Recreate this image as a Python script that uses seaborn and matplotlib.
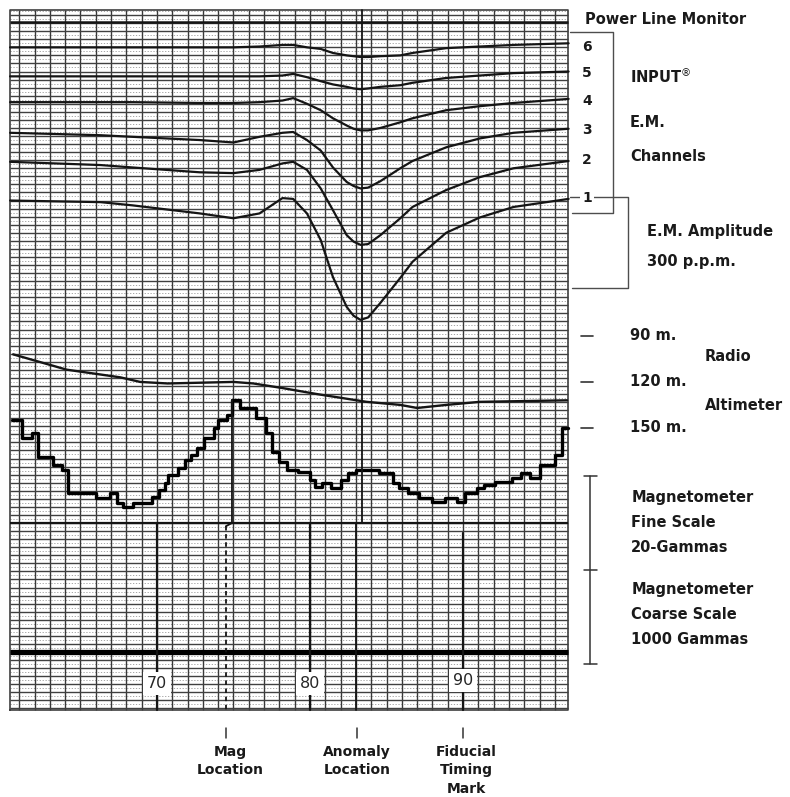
import numpy as np
import pandas as pd
import matplotlib
matplotlib.use('Agg')
import matplotlib.pyplot as plt
import seaborn as sns

# chart record, x in fiducial numbers, y in chart divisions (0 = coarse mag line)
em_fid = [60.4, 66.3, 68.4, 72.8, 75.0, 76.7, 78.2, 78.9, 79.8, 80.7,
          81.5, 82.4, 82.85, 83.3, 83.8, 84.6, 85.9, 86.7, 88.9, 91.1, 93.3, 96.9]
ch1 = [56.0, 55.8, 55.4, 54.4, 53.8, 54.4, 56.3, 56.2, 54.4, 51.1,
       46.5, 42.8, 41.7, 41.2, 41.5, 43.3, 46.4, 48.4, 52.0, 53.9, 55.2, 56.2]
ch2 = [60.8, 60.4, 60.1, 59.5, 59.4, 59.8, 60.6, 60.8, 59.8, 57.5,
       54.8, 51.7, 50.9, 50.5, 50.6, 51.7, 53.8, 55.2, 57.3, 58.9, 60.0, 60.9]
ch3 = [64.4, 64.1, 63.9, 63.5, 63.2, 63.9, 64.4, 64.5, 63.5, 62.2,
       60.1, 58.3, 57.8, 57.5, 57.6, 58.4, 60.0, 60.9, 62.6, 63.7, 64.4, 64.9]
ch4 = [68.2, 68.2, 68.2, 68.1, 68.1, 68.2, 68.4, 68.7, 68.0, 67.2,
       66.2, 65.3, 64.9, 64.7, 64.7, 65.0, 65.7, 66.2, 67.2, 67.7, 68.1, 68.6]
ch5 = [71.4, 71.4, 71.4, 71.4, 71.4, 71.4, 71.5, 71.7, 71.3, 70.8,
       70.4, 70.1, 69.9, 69.8, 69.9, 70.1, 70.3, 70.6, 71.2, 71.5, 71.8, 72.0]
ch6 = [75.0, 75.0, 75.0, 75.0, 75.0, 75.1, 75.3, 75.3, 75.0, 74.8,
       74.3, 74.0, 73.9, 73.8, 73.8, 73.9, 74.0, 74.3, 74.9, 75.1, 75.3, 75.5]
power_line = 78.1

# radio altimeter (metres)
alt_fid = [60.6, 64.1, 67.6, 68.9, 70.7, 75.0, 76.3, 78.2, 80.5, 83.7,
           85.9, 87.0, 88.9, 91.1, 96.8]
alt_m = [102, 112, 117, 120, 121, 120, 121, 124, 128, 133,
         135, 137, 135, 133, 132]
alt_ticks = [90, 120, 150]

# magnetometer fine scale (gammas above the local minimum), stepped record
mag_fid = [60.5, 61.2, 61.8, 62.2, 63.2, 63.8, 64.2, 66.0, 66.9, 67.4,
           67.8, 68.4, 69.7, 70.1, 70.5, 70.7, 71.4, 71.8, 72.2, 72.6,
           73.1, 73.7, 74.0, 74.6, 74.9, 75.4, 76.5, 77.1, 77.5, 78.0,
           78.5, 79.2, 80.0, 80.3, 80.8, 81.4, 82.0, 82.5, 83.0, 84.5,
           85.4, 85.8, 86.4, 87.1, 88.0, 88.8, 89.6, 90.1, 90.9, 91.4,
           92.1, 93.2, 93.8, 94.4, 95.0, 96.0, 96.5, 96.86]
mag_gamma = [18.5, 14.7, 15.7, 10.6, 8.9, 7.9, 3.0, 1.9, 3.0, 0.9,
             0.0, 0.9, 2.1, 3.6, 5.1, 6.8, 8.3, 10.0, 11.1, 12.6,
             14.7, 16.8, 18.5, 19.6, 22.8, 21.1, 18.9, 15.7, 11.7, 9.6,
             7.9, 7.4, 5.7, 4.3, 5.1, 4.0, 5.7, 7.2, 7.9, 7.2,
             5.1, 4.0, 3.0, 1.9, 1.1, 1.9, 1.1, 3.0, 4.0, 4.7,
             5.3, 6.2, 7.2, 6.2, 8.9, 11.1, 16.8, 16.8]

fid_labels = [70, 80, 90]
channel_names = ['1', '2', '3', '4', '5', '6']

# scale of the record
MAG_BASE = 18.0      # divisions at 0 gamma
GAMMA_DIV = 0.583    # divisions per gamma
def alt_div(m):
    return 39.2 - (np.asarray(m, dtype=float) - 90) * 0.19

X0, X1 = 60.39, 96.86
Y0, Y1 = -7.19, 79.63
INK = '#151515'

sns.set_theme(style='white')
plt.rcParams['font.family'] = ['DejaVu Sans']

fig = plt.figure(figsize=(7.9, 7.97), dpi=100)
ax = fig.add_axes([0, 0, 1, 1])
ax.set_xlim(59.74, 111.37)
ax.set_ylim(-17.98, 80.87)
ax.axis('off')

# chart paper
ax.hlines(np.arange(-6.5, 79.6, 1.0), X0, X1, color='0.6', lw=0.6, linestyles=(0, (1.5, 2)))
ax.vlines(np.arange(61, 97), Y0, Y1, color='0.22', lw=1.0)
ax.hlines(np.arange(-7, 80), X0, X1, color='0.25', lw=1.0)
ax.plot([X0, X1, X1, X0, X0], [Y0, Y0, Y1, Y1, Y0], color='0.25', lw=1.2)
ax.hlines([16], X0, X1, color=INK, lw=1.6)
ax.hlines([0], X0, X1, color='black', lw=3.8)
ax.hlines([power_line], X0, X1, color=INK, lw=1.8)

# EM channels
em = pd.DataFrame({
    'fid': em_fid * 6,
    'div': ch1 + ch2 + ch3 + ch4 + ch5 + ch6,
    'channel': sum([[c] * len(em_fid) for c in channel_names], []),
})
sns.lineplot(data=em, x='fid', y='div', units='channel', estimator=None,
             sort=False, color=INK, lw=1.6, ax=ax, legend=False,
             solid_joinstyle='round')

# radio altimeter
sns.lineplot(x=alt_fid, y=alt_div(alt_m), sort=False, color=INK, lw=1.7, ax=ax,
             solid_joinstyle='round')

# magnetometer
mag_div = MAG_BASE + GAMMA_DIV * np.array(mag_gamma)
sns.lineplot(x=mag_fid, y=mag_div, sort=False, color='black', lw=2.4,
             drawstyle='steps-post', ax=ax)

# anomaly and mag location picks
ax.plot([83.4, 83.4, 83.0, 83.0], [Y1, 16, 16, Y0], color=INK, lw=1.3)
peak = mag_fid[int(np.argmax(mag_gamma))]
ax.plot([peak, peak, 74.5], [mag_div.max(), 16, 15.6], color=INK, lw=1.3)
ax.plot([74.5, 74.5], [15.6, Y0], color=INK, lw=1.3, ls=(0, (2.5, 2)))

# fiducial timing marks
for f in fid_labels:
    top = 16 if f < 90 else 14.8
    ax.plot([f, f], [top, Y0], color=INK, lw=1.6)
    ax.text(f, -3.9 if f < 90 else -3.5, str(f), ha='center', va='center',
            fontsize=11.5, color='0.15',
            bbox=dict(facecolor='white', edgecolor='none', pad=3))

# right-hand annotations
txt = dict(fontsize=10.5, fontweight='bold', color='0.1', va='center', ha='left')
ax.text(97.97, 78.4, 'Power Line Monitor', **txt)
ax.plot([97.0, 99.8, 99.8, 97.1], [76.9, 76.9, 54.45, 54.45], color='0.3', lw=1.0)
ax.plot([97.0, 100.78, 100.78, 97.1], [56.43, 56.43, 45.15, 45.15], color='0.3', lw=1.0)
for name, yy in zip(channel_names, [56.3, 61.0, 64.7, 68.3, 71.8, 75.0]):
    ax.text(98.1, yy, name, fontsize=10, fontweight='bold', color='0.1',
            ha='center', va='center',
            bbox=dict(facecolor='white', edgecolor='none', pad=1.5))
ax.text(100.9, 71.4, r'INPUT$^{\circledR}$', **txt)
ax.text(100.9, 65.7, 'E.M.', **txt)
ax.text(100.9, 61.4, 'Channels', **txt)
ax.text(102.0, 52.1, 'E.M. Amplitude', **txt)
ax.text(102.0, 48.4, '300 p.p.m.', **txt)

for m in alt_ticks:
    ax.plot([97.7, 98.5], [alt_div(m)] * 2, color='0.2', lw=1.2)
    ax.text(100.9, float(alt_div(m)), f'{m} m.', **txt)
ax.text(105.8, 36.6, 'Radio', **txt)
ax.text(105.8, 30.6, 'Altimeter', **txt)

bar = [MAG_BASE + GAMMA_DIV * g for g in (6.5, -13.5, -33.5)]
ax.plot([98.3, 98.3], [bar[0], bar[2]], color='0.2', lw=1.1)
for b in bar:
    ax.plot([97.9, 98.75], [b, b], color='0.2', lw=1.1)
for yy, s in zip([19.2, 16.1, 13.0, 7.7, 4.6, 1.5],
                 ['Magnetometer', 'Fine Scale', '20-Gammas',
                  'Magnetometer', 'Coarse Scale', '1000 Gammas']):
    ax.text(101.0, yy, s, **txt)

# bottom captions
btm = dict(fontsize=10, fontweight='bold', color='0.1', ha='center', va='center')
for xx in [74.5, 83.07, 90.0]:
    ax.plot([xx, xx], [-9.4, -10.7], color='0.2', lw=1.1)
ax.text(74.8, -12.4, 'Mag', **btm)
ax.text(74.8, -14.6, 'Location', **btm)
ax.text(83.07, -12.4, 'Anomaly', **btm)
ax.text(83.07, -14.6, 'Location', **btm)
ax.text(90.2, -12.4, 'Fiducial', **btm)
ax.text(90.2, -14.6, 'Timing', **btm)
ax.text(90.2, -17.0, 'Mark', **btm)

fig.savefig('out.png', dpi=100, facecolor='white')
